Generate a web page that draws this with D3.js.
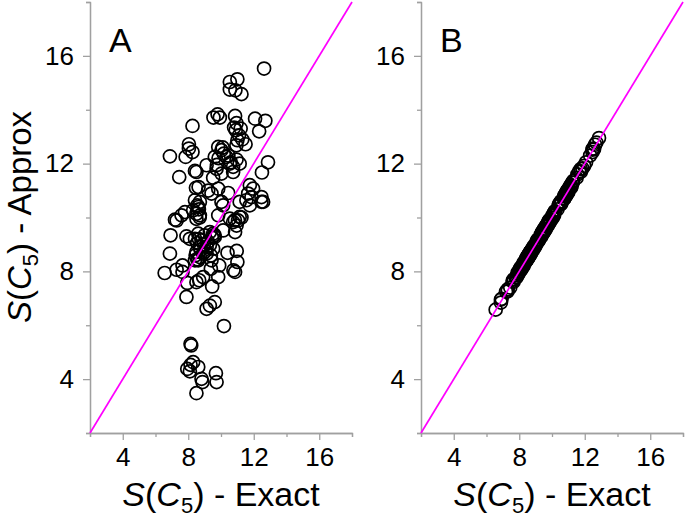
<!DOCTYPE html>
<html><head><meta charset="utf-8">
<script src="https://cdn.jsdelivr.net/npm/d3@7"></script>
<style>body{margin:0;background:#fff;} text{font-family:"Liberation Sans",Arial,sans-serif;}</style>
</head><body><svg id="c" width="685" height="519"></svg>
<script>
// exact S(C5) values (shared by both panels)
const exact = [12.63,11.00,10.54,10.54,10.88,11.25,9.54,9.79,9.93,10.86,12.08,12.71,12.33,8.26,10.80,10.90,11.10,11.00,11.30,11.50,10.94,8.04,8.04,8.26,6.88,7.84,9.83,10.03,10.17,10.33,9.62,10.54,10.74,11.14,12.87,9.73,9.12,8.41,8.50,7.45,9.52,10.03,10.74,12.50,8.47,8.63,9.22,9.42,9.83,10.44,11.76,11.96,11.66,11.86,11.55,11.76,12.47,12.57,12.47,11.14,10.03,10.13,8.41,8.71,8.61,8.30,8.50,8.71,7.80,7.59,7.19,7.29,9.83,10.54,10.74,11.04,11.14,10.13,10.86,6.92,7.89,8.10,8.41,8.61,8.81,9.01,9.32,9.52,9.62,9.32,9.52,9.12,8.71,8.50,8.71,8.61,8.41,8.91,9.12,9.38,9.42,6.88,10.40,10.96,11.00,10.86,10.76,9.89,7.29,7.65,7.65,6.56,7.94,8.67,8.91,8.50,9.46,9.83,9.38,7.89,9.12,9.32,9.62,10.18,8.14,8.18,7.94,8.14,8.30,8.61,8.10,8.81,8.87,9.69,9.73,8.50,8.55,8.65,8.75,8.95,9.05,9.20,9.45,9.60,8.45,8.55,8.65,8.55,8.70,8.50,10.95,10.60,10.45,11.20,10.95,10.10,9.85,9.75,10.85,10.95,11.25];
// panel A: approximate values
const approxA = [15.53,15.13,15.03,14.75,14.72,14.58,13.71,13.83,13.71,13.77,13.67,13.59,13.20,13.40,13.34,13.24,13.05,12.87,12.90,12.72,12.68,12.72,12.56,12.43,12.27,12.25,12.62,12.50,12.37,12.25,12.25,12.00,11.88,12.00,12.05,11.81,11.94,11.73,11.69,11.50,11.48,11.63,11.69,11.67,11.10,11.13,11.00,10.89,11.07,10.91,11.20,11.07,10.89,10.76,10.64,10.45,10.76,10.58,10.58,10.58,10.58,10.45,10.64,10.58,10.39,10.27,10.14,10.08,10.20,10.08,9.92,9.89,10.08,9.96,9.83,9.89,10.02,9.52,9.46,9.34,9.30,9.21,9.21,9.40,9.15,9.34,9.46,9.40,9.28,8.97,8.84,8.90,8.90,8.72,8.53,8.41,8.41,8.66,8.66,8.59,8.41,8.66,8.69,8.76,8.35,7.98,8.04,8.22,8.06,8.22,7.98,7.94,7.57,7.67,7.79,7.60,7.44,7.79,8.10,7.05,6.61,6.73,6.86,5.97,5.31,5.25,4.38,4.53,4.63,4.45,4.29,4.01,3.89,4.22,3.89,3.48,9.05,9.20,8.80,9.00,8.75,9.10,9.25,9.35,8.60,8.45,10.30,10.45,10.00,9.95,12.15,12.05,12.30,13.30,13.50,12.60,12.20,11.95,9.90,9.70,10.00];
// panel B: approximate values
const approxB = [12.70,11.05,10.50,10.60,10.85,11.30,9.50,9.85,9.90,10.92,12.05,12.78,12.30,8.20,10.85,10.86,11.16,10.96,11.36,11.47,11.00,8.00,8.10,8.31,6.95,7.80,9.90,10.00,10.22,10.30,9.68,10.50,10.80,11.10,12.95,9.70,9.18,8.38,8.56,7.40,9.58,10.08,10.70,12.56,8.44,8.68,9.18,9.48,9.80,10.50,11.80,11.92,11.72,11.82,11.60,11.70,12.52,12.54,12.43,11.20,9.98,10.18,8.46,8.68,8.66,8.26,8.54,8.76,7.76,7.64,7.25,7.26,9.88,10.58,10.70,11.09,11.10,10.08,10.82,6.98,7.94,8.06,8.45,8.58,8.86,8.97,9.37,9.48,9.66,9.28,9.56,9.08,8.75,8.46,8.67,8.65,8.37,8.95,9.16,9.34,9.46,6.84,10.44,10.92,11.04,10.90,10.72,9.93,7.33,7.61,7.70,6.58,7.90,8.72,8.87,8.53,9.42,9.86,9.42,7.85,9.15,9.29,9.58,10.23,8.18,8.14,7.98,8.10,8.34,8.57,8.14,8.77,8.91,9.73,9.69,8.46,8.59,8.61,8.79,8.91,9.09,9.16,9.49,9.56,8.49,8.51,8.69,8.59,8.66,8.54,10.99,10.56,10.49,11.16,10.99,10.14,9.81,9.79,10.81,10.91,11.29];
const majorTicks = [4, 8, 12, 16];
const minorTicks = [2, 6, 10, 14, 18];
const domain = [2, 18];
const identityLine = [2, 18];
const panels = [
  {letter: "A", approx: approxA, x0: 90, x1: 352, showYTitle: true},
  {letter: "B", approx: approxB, x0: 421, x1: 683, showYTitle: false}
];

const svg = d3.select("#c");
const axisColor = "#a0a0a0";

function titleText(g, rest) {
  g.append("tspan").attr("font-style", "italic").text("S");
  g.append("tspan").text("(");
  g.append("tspan").attr("font-style", "italic").text("C");
  g.append("tspan").attr("font-size", 22).attr("dy", 7).text("5");
  g.append("tspan").attr("dy", -7).text(")" + rest);
}

panels.forEach(p => {
  const x = d3.scaleLinear().domain(domain).range([p.x0, p.x1]);
  const y = d3.scaleLinear().domain(domain).range([433, 2]);
  const g = svg.append("g");

  // minor ticks
  g.append("g").attr("transform", "translate(0,433)")
    .call(d3.axisBottom(x).tickValues(minorTicks).tickSize(4).tickFormat(""))
    .call(a => { a.selectAll("line,path").attr("stroke", axisColor).attr("stroke-width", 1.3); });
  g.append("g").attr("transform", `translate(${p.x0},0)`)
    .call(d3.axisLeft(y).tickValues(minorTicks).tickSize(4).tickFormat(""))
    .call(a => { a.selectAll("line,path").attr("stroke", axisColor).attr("stroke-width", 1.3); });
  // major ticks
  g.append("g").attr("transform", "translate(0,433)")
    .call(d3.axisBottom(x).tickValues(majorTicks).tickSize(7).tickSizeOuter(0).tickPadding(8))
    .call(a => {
      a.selectAll("line,path").attr("stroke", axisColor).attr("stroke-width", 1.3);
      a.selectAll("text").attr("font-size", 26).attr("fill", "#000")
        .attr("font-family", "'Liberation Sans', Arial, sans-serif");
    });
  g.append("g").attr("transform", `translate(${p.x0},0)`)
    .call(d3.axisLeft(y).tickValues(majorTicks).tickSize(7).tickSizeOuter(0).tickPadding(9))
    .call(a => {
      a.selectAll("line,path").attr("stroke", axisColor).attr("stroke-width", 1.3);
      a.selectAll("text").attr("font-size", 26).attr("fill", "#000")
        .attr("font-family", "'Liberation Sans', Arial, sans-serif");
    });

  // points
  g.append("g").selectAll("circle").data(exact.map((e, i) => [e, p.approx[i]]))
    .join("circle")
    .attr("cx", d => x(d[0])).attr("cy", d => y(d[1])).attr("r", 6.5)
    .attr("fill", "none").attr("stroke", "#000").attr("stroke-width", 1.7);

  // identity line
  g.append("line")
    .attr("x1", x(identityLine[0])).attr("y1", y(identityLine[0]))
    .attr("x2", x(identityLine[1])).attr("y2", y(identityLine[1]))
    .attr("stroke", "#ff00ff").attr("stroke-width", 1.7);

  // panel letter
  g.append("text").attr("x", p.x0 + 19).attr("y", 52)
    .attr("font-size", 34).text(p.letter);

  // x title
  const xt = g.append("text").attr("x", (p.x0 + p.x1) / 2).attr("y", 506)
    .attr("text-anchor", "middle").attr("font-size", 34);
  titleText(xt, " - Exact");

  if (p.showYTitle) {
    const yt = g.append("text").attr("transform", "translate(31,217) rotate(-90)")
      .attr("text-anchor", "middle").attr("font-size", 33);
    titleText(yt, " - Approx");
  }
});
</script></body></html>
